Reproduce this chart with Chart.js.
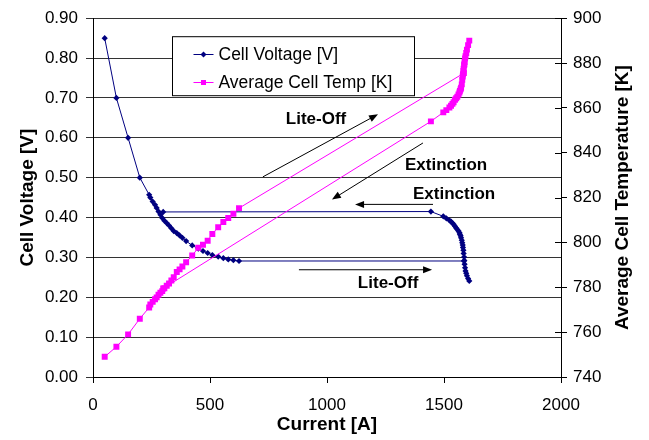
<!DOCTYPE html>
<html>
<head>
<meta charset="utf-8">
<script src="https://cdn.jsdelivr.net/npm/chart.js@4.4.1/dist/chart.umd.min.js"></script>
<style>
  html, body { margin: 0; padding: 0; background: #fff; }
</style>
</head>
<body>
<canvas id="fuelCellChart" width="649" height="440"></canvas>
<script>
// Stack current [A], in the order the sweep was recorded:
// low branch going up, lite-off jump, high branch coming down, extinction jump
const currentA = [
    50, 100, 150, 200, 240, 245, 255, 265, 272, 280, 288, 296, 305, 315, 325, 335,
    345, 358, 370, 382, 398, 424, 450, 470, 490, 510, 535, 557, 578, 600, 624,
    1585,
    1608, 1603, 1598, 1595, 1592, 1590, 1588, 1587, 1586, 1584, 1583, 1581, 1580,
    1578, 1576, 1573, 1571, 1568, 1566, 1562, 1557, 1552, 1547, 1541, 1536, 1530,
    1523, 1510, 1497, 1444,
    300
];

// Cell voltage [V]
const cellVoltage = [
    0.85, 0.70, 0.60, 0.50, 0.457, 0.450, 0.440, 0.432, 0.424, 0.415, 0.407, 0.399, 0.392, 0.386, 0.380, 0.373,
    0.366, 0.361, 0.355, 0.349, 0.341, 0.330, 0.322, 0.316, 0.311, 0.306, 0.302, 0.298, 0.295, 0.293, 0.291,
    0.291,
    0.241, 0.247, 0.254, 0.260, 0.266, 0.274, 0.283, 0.292, 0.301, 0.310, 0.318, 0.325, 0.331,
    0.337, 0.343, 0.349, 0.354, 0.358, 0.362, 0.366, 0.370, 0.374, 0.378, 0.383, 0.386, 0.390,
    0.393, 0.398, 0.403, 0.415,
    0.414
];

// Average cell temperature [K]
const cellTemp = [
    749, 753.5, 759, 766, 771, 772.3, 773.5, 774.7, 775.5, 776.7, 777.6, 778.3, 779.6, 780.7, 781.7, 783,
    784.5, 786.8, 788, 789.3, 791.2, 794.2, 797.6, 799, 800.8, 803.8, 806.8, 809.1, 810.9, 812.8, 815.3,
    875.5,
    890, 888, 886, 884.5, 883, 882, 880.5, 879.5, 879, 877.5, 876.5, 875, 874,
    872.5, 870.5, 869, 868.3, 867.6, 866.9, 866, 865, 864.3, 863.6, 862.5, 861.8, 861,
    860.2, 859, 858, 854,
    779.5
];

// Axis ranges and tick steps
const currentTicks = [0, 500, 1000, 1500, 2000];
const voltageTicks = [0.0, 0.1, 0.2, 0.3, 0.4, 0.5, 0.6, 0.7, 0.8, 0.9];
const tempTicks = [740, 760, 780, 800, 820, 840, 860, 880, 900];

// Annotation arrows, in data units (current, voltage): [fromX, fromY, toX, toY]
const arrowLines = [
    [726, 0.502, 1218, 0.659],   // Lite-Off (upper)
    [1410, 0.587, 1021, 0.445],  // Extinction (upper)
    [1453, 0.433, 1120, 0.433],  // Extinction (lower)
    [880, 0.269, 1449, 0.269]    // Lite-Off (lower)
];
const arrowLabels = ['Lite-Off', 'Extinction', 'Extinction', 'Lite-Off'];
const labelX = [953, 1509, 1543, 1261];
const labelY = [0.646, 0.532, 0.457, 0.234];

const FONT = "'Liberation Sans', Arial, Helvetica, sans-serif";
const NAVY = '#000080';
const MAGENTA = '#FF00FF';
const TITLE_FONT = { family: FONT, size: 19, weight: 'bold' };

const voltagePoints = currentA.map((x, i) => ({ x: x, y: cellVoltage[i] }));
const tempPoints = currentA.map((x, i) => ({ x: x, y: cellTemp[i] }));

function drawArrow(ctx, x1, y1, x2, y2) {
    const ang = Math.atan2(y2 - y1, x2 - x1);
    const len = 9, half = 3.5;
    ctx.beginPath();
    ctx.moveTo(x1, y1);
    ctx.lineTo(x2 - Math.cos(ang) * len * 0.8, y2 - Math.sin(ang) * len * 0.8);
    ctx.stroke();
    ctx.beginPath();
    ctx.moveTo(x2, y2);
    ctx.lineTo(x2 - Math.cos(ang) * len - Math.sin(ang) * half, y2 - Math.sin(ang) * len + Math.cos(ang) * half);
    ctx.lineTo(x2 - Math.cos(ang) * len + Math.sin(ang) * half, y2 - Math.sin(ang) * len - Math.cos(ang) * half);
    ctx.closePath();
    ctx.fill();
}

// Draws the arrows with their labels, the legend box, the right axis title
// (reading bottom to top) and the inner half of the right-axis ticks
const overlayPlugin = {
    id: 'overlay',
    afterDraw(chart) {
        const ctx = chart.ctx;
        const xs = chart.scales.x, ys = chart.scales.y, y2 = chart.scales.y2;
        const area = chart.chartArea;
        ctx.save();

        // right axis ticks cross the axis line
        ctx.strokeStyle = '#000';
        ctx.lineWidth = 1;
        tempTicks.forEach(t => {
            const py = Math.round(y2.getPixelForValue(t)) + 0.5;
            ctx.beginPath();
            ctx.moveTo(area.right - 6, py);
            ctx.lineTo(area.right, py);
            ctx.stroke();
        });

        // right axis title
        ctx.save();
        ctx.translate(chart.width - 26, (area.top + area.bottom) / 2);
        ctx.rotate(-Math.PI / 2);
        ctx.font = 'bold 19px ' + FONT;
        ctx.fillStyle = '#000';
        ctx.textAlign = 'center';
        ctx.textBaseline = 'middle';
        ctx.fillText('Average Cell Temperature [K]', 0, 0);
        ctx.restore();

        // arrows
        ctx.fillStyle = '#000';
        arrowLines.forEach(a => {
            drawArrow(ctx,
                xs.getPixelForValue(a[0]), ys.getPixelForValue(a[1]),
                xs.getPixelForValue(a[2]), ys.getPixelForValue(a[3]));
        });

        // arrow labels
        ctx.font = 'bold 17px ' + FONT;
        ctx.textAlign = 'center';
        ctx.textBaseline = 'middle';
        arrowLabels.forEach((txt, i) => {
            ctx.fillText(txt, xs.getPixelForValue(labelX[i]), ys.getPixelForValue(labelY[i]));
        });

        // legend box
        const bx = area.left + 79.5, by = area.top + 18.5, bw = 242, bh = 59;
        ctx.fillStyle = '#fff';
        ctx.fillRect(bx, by, bw, bh);
        ctx.strokeStyle = '#000';
        ctx.strokeRect(bx, by, bw, bh);

        const entries = [
            { text: 'Cell Voltage [V]', color: NAVY, shape: 'diamond', dy: 17 },
            { text: 'Average Cell Temp [K]', color: MAGENTA, shape: 'square', dy: 45 }
        ];
        ctx.font = '17.5px ' + FONT;
        ctx.textAlign = 'left';
        entries.forEach(e => {
            const cy = Math.round(by + e.dy) + 0.5;
            const lx = bx + 21;
            ctx.strokeStyle = e.color;
            ctx.fillStyle = e.color;
            ctx.beginPath();
            ctx.moveTo(lx, cy);
            ctx.lineTo(lx + 20, cy);
            ctx.stroke();
            const mx = lx + 10;
            ctx.beginPath();
            if (e.shape === 'diamond') {
                ctx.moveTo(mx - 3, cy);
                ctx.lineTo(mx, cy - 3);
                ctx.lineTo(mx + 3, cy);
                ctx.lineTo(mx, cy + 3);
                ctx.closePath();
                ctx.fill();
            } else {
                ctx.fillRect(mx - 2.5, cy - 2.5, 5, 5);
            }
            ctx.fillStyle = '#000';
            ctx.fillText(e.text, bx + 46, cy + 1);
        });

        ctx.restore();
    }
};

const ctx = document.getElementById('fuelCellChart').getContext('2d');

new Chart(ctx, {
    type: 'scatter',
    data: {
        datasets: [
            {
                label: 'Cell Voltage [V]',
                data: voltagePoints,
                yAxisID: 'y',
                showLine: true,
                borderColor: NAVY,
                backgroundColor: NAVY,
                borderWidth: 1,
                pointStyle: 'rectRot',
                pointRadius: 3.1,
                pointBorderWidth: 0,
                order: 2
            },
            {
                label: 'Average Cell Temp [K]',
                data: tempPoints,
                yAxisID: 'y2',
                showLine: true,
                borderColor: MAGENTA,
                backgroundColor: MAGENTA,
                borderWidth: 1,
                pointStyle: 'rect',
                pointRadius: 4.2,
                pointBorderWidth: 0,
                order: 1
            }
        ]
    },
    options: {
        responsive: false,
        animation: false,
        devicePixelRatio: 1,
        layout: { padding: { top: 15, left: 0, right: 0, bottom: 0 } },
        plugins: {
            legend: { display: false },
            tooltip: { enabled: false }
        },
        scales: {
            x: {
                type: 'linear',
                min: currentTicks[0],
                max: currentTicks[currentTicks.length - 1],
                afterBuildTicks: s => { s.ticks = currentTicks.map(v => ({ value: v })); },
                afterFit: s => { s.height = 63; },
                ticks: {
                    color: '#000',
                    font: { family: FONT, size: 17 },
                    padding: 12,
                    maxRotation: 0,
                    callback: v => String(v)
                },
                grid: { drawOnChartArea: false, tickLength: 6, color: '#000' },
                border: { color: '#000' },
                title: {
                    display: true,
                    text: 'Current [A]',
                    color: '#000',
                    font: TITLE_FONT,
                    padding: { top: 0, bottom: 4 }
                }
            },
            y: {
                type: 'linear',
                position: 'left',
                min: voltageTicks[0],
                max: voltageTicks[voltageTicks.length - 1],
                afterBuildTicks: s => { s.ticks = voltageTicks.map(v => ({ value: v })); },
                afterFit: s => { s.width = 93; },
                ticks: {
                    color: '#000',
                    font: { family: FONT, size: 17 },
                    padding: 8,
                    callback: v => v.toFixed(2)
                },
                grid: { color: '#333', tickLength: 7 },
                border: { color: '#000' },
                title: {
                    display: true,
                    text: 'Cell Voltage [V]',
                    color: '#000',
                    font: TITLE_FONT,
                    padding: { top: 16, bottom: 0 }
                }
            },
            y2: {
                type: 'linear',
                position: 'right',
                min: tempTicks[0],
                max: tempTicks[tempTicks.length - 1],
                afterBuildTicks: s => { s.ticks = tempTicks.map(v => ({ value: v })); },
                afterFit: s => { s.width = 88; },
                ticks: { color: '#000', font: { family: FONT, size: 17 }, padding: 6 },
                grid: { drawOnChartArea: false, tickLength: 6, color: '#000' },
                border: { color: '#000' },
                title: { display: false }
            }
        }
    },
    plugins: [overlayPlugin]
});
</script>
</body>
</html>
